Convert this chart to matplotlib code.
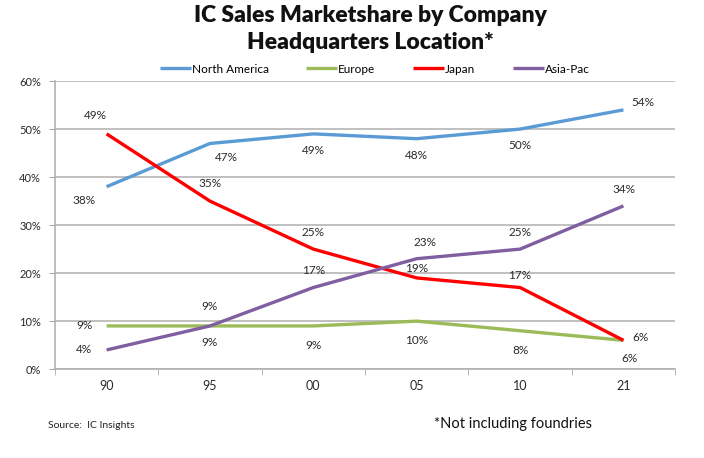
import matplotlib
matplotlib.use("Agg")
import matplotlib.pyplot as plt
from matplotlib.ticker import FixedLocator

plt.rcParams['font.family'] = ['Lato', 'DejaVu Sans']

years = ["90", "95", "00", "05", "10", "21"]
north_america = [38, 47, 49, 48, 50, 54]
europe = [9, 9, 9, 10, 8, 6]
japan = [49, 35, 25, 19, 17, 6]
asia_pac = [4, 9, 17, 23, 25, 34]

# label offsets in points (dx, dy) per point
na_off = [(-16, -10), (12, -10), (0, -12), (0, -12), (0, -12), (14, 5)]
eu_off = [(-16, 0), (0, -12), (0, -14), (0, -14), (0, -14), (4, -13)]
jp_off = [(-8, 13), (0, 13), (0, 12), (0, 7), (0, 9), (12, 2)]
ap_off = [(-16, 0), (0, 14), (0, 12), (6, 12), (0, 12), (0, 12)]

fig = plt.figure(figsize=(7.04, 4.58), dpi=100)
ax = fig.add_axes([0.078, 0.194, 0.881, 0.629])

x = list(range(len(years)))
series = [
    ("North America", north_america, "#5B9BD5", na_off),
    ("Europe", europe, "#9BBB59", eu_off),
    ("Japan", japan, "#FF0000", jp_off),
    ("Asia-Pac", asia_pac, "#7F5FA0", ap_off),
]
for name, vals, col, offs in series:
    ax.plot(x, vals, color=col, lw=2.4, label=name, solid_capstyle='butt')

for name, vals, col, offs in series:
    for xi, v, (dx, dy) in zip(x, vals, offs):
        ax.annotate(f"{v}%", (xi, v), xytext=(dx, dy), textcoords='offset points',
                    ha='center', va='center', fontsize=8.5, color='#2a2a2a')

ax.set_xlim(-0.5, 5.5)
ax.set_ylim(0, 60)
ax.set_yticks(range(0, 61, 10))
ax.set_yticklabels([f"{v}%" for v in range(0, 61, 10)], fontsize=8, color='#2a2a2a')
ax.set_xticks(x)
ax.set_xticklabels(years, fontsize=9, color='#2a2a2a')
ax.tick_params(axis='x', length=0, pad=8)
ax.xaxis.set_minor_locator(FixedLocator([i - 0.5 for i in range(7)]))
ax.tick_params(axis='x', which='minor', length=4, color='#aaaaaa', direction='out')
ax.tick_params(axis='y', length=4, color='#aaaaaa', pad=6)

ax.grid(axis='y', color='#c0c0c0', lw=1.4)
ax.set_axisbelow(True)
for s in ['top', 'right']:
    ax.spines[s].set_visible(False)
ax.spines['left'].set_color('#b0b0b0')
ax.spines['bottom'].set_color('#b0b0b0')
ax.spines['left'].set_linewidth(1.2)
ax.spines['bottom'].set_linewidth(1.2)

ax.legend(loc='lower center', bbox_to_anchor=(0.516, 1.0), ncol=4, frameon=False,
          fontsize=8.5, handlelength=2.6, handletextpad=0.1, columnspacing=3.2,
          borderaxespad=0.15)

fig.text(0.526, 0.988, "IC Sales Marketshare by Company\nHeadquarters Location*",
         ha='center', va='top', fontsize=16.5, fontweight='heavy', linespacing=1.32,
         color='#111111')
fig.text(0.068, 0.065, "Source:  IC Insights", fontsize=7.5, color='#222222')
fig.text(0.617, 0.065, "*Not including foundries", fontsize=10.5, color='#111111')

fig.savefig("out.png", dpi=100)
